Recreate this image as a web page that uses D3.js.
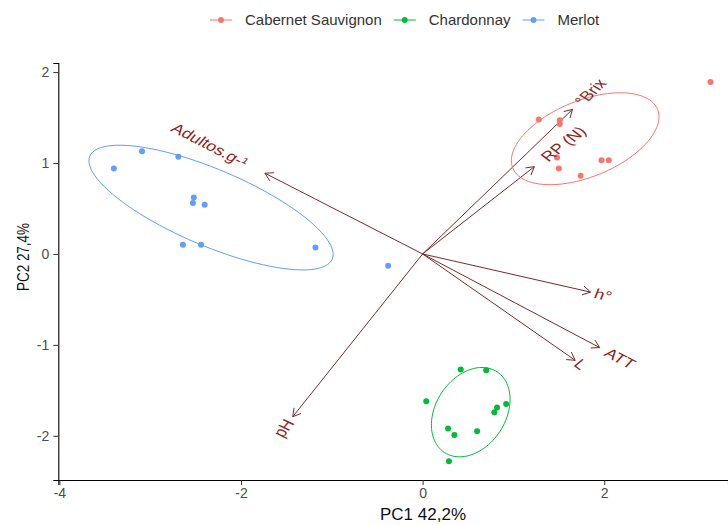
<!DOCTYPE html>
<html>
<head>
<meta charset="utf-8">
<script src="https://cdn.jsdelivr.net/npm/d3@7"></script>
<style>
  html, body { margin: 0; padding: 0; background: #fff; }
  svg { display: block; font-family: "Liberation Sans", Arial, sans-serif; }
</style>
</head>
<body>
<svg id="chart" width="728" height="525"></svg>
<script>
// ---------------- data ----------------
const categories = ["Cabernet Sauvignon", "Chardonnay", "Merlot"];
const groupColors = ["#F8766D", "#00BA38", "#619CFF"];

const cabernetPC1 = [1.28, 1.51, 1.51, 1.48, 1.50, 1.97, 2.05, 1.74, 3.17];
const cabernetPC2 = [1.48, 1.47, 1.43, 1.06, 0.94, 1.03, 1.03, 0.86, 1.89];
const chardonnayPC1 = [0.42, 0.70, 0.04, 0.82, 0.92, 0.79, 0.28, 0.35, 0.60, 0.29];
const chardonnayPC2 = [-1.27, -1.28, -1.62, -1.69, -1.65, -1.74, -1.92, -1.99, -1.95, -2.28];
const merlotPC1 = [-3.40, -3.09, -2.69, -2.52, -2.53, -2.40, -2.64, -2.44, -1.18, -0.38];
const merlotPC2 = [0.94, 1.13, 1.07, 0.62, 0.56, 0.54, 0.10, 0.10, 0.07, -0.13];

// ellipse summaries per group (centre, semi-axes, rotation in degrees), data units
const ellipseCx = [1.79, 0.53, -2.33];
const ellipseCy = [1.267, -1.74, 0.51];
const ellipseA = [0.86, 0.53, 1.45];
const ellipseB = [0.42, 0.385, 0.42];
const ellipseAngle = [22, 57, -23];

// variable loadings (arrows)
const varNames = ["°Brix", "RP (N)", "Adultos.g-¹", "h°", "ATT", "L", "pH"];
const loadPC1 = [1.65, 1.23, -1.737, 1.85, 1.95, 1.68, -1.43];
const loadPC2 = [1.59, 0.96, 0.888, -0.42, -1.03, -1.17, -1.79];

const xTicks = [-4, -2, 0, 2];
const yTicks = [-2, -1, 0, 1, 2];
const xTitle = "PC1 42,2%";
const yTitle = "PC2 27,4%";

// ---------------- chart ----------------
const svg = d3.select("#chart");
const x = d3.scaleLinear().domain([-4.012, 3.363]).range([58.3, 728]);
const y = d3.scaleLinear().domain([-2.486, 2.10]).range([480, 63]);

const groups = [
  {pc1: cabernetPC1, pc2: cabernetPC2},
  {pc1: chardonnayPC1, pc2: chardonnayPC2},
  {pc1: merlotPC1, pc2: merlotPC2}
];

// axes
const gx = svg.append("g").attr("transform", `translate(0,${y.range()[0]})`)
  .call(d3.axisBottom(x).tickValues(xTicks).tickSizeOuter(0).tickSize(5).tickPadding(3).tickFormat(d3.format("d")));
const gy = svg.append("g").attr("transform", `translate(${x.range()[0]},0)`)
  .call(d3.axisLeft(y).tickValues(yTicks).tickSizeOuter(0).tickSize(5).tickPadding(4).tickFormat(d3.format("d")));
[gx, gy].forEach(g => {
  g.select(".domain").attr("stroke", "#000").attr("stroke-width", 1.1);
  g.selectAll(".tick line").attr("stroke", "#333");
  g.selectAll(".tick text").attr("fill", "#4D4D4D").style("font-size", "14px")
    .style("font-family", "Liberation Sans, Arial, sans-serif")
    .text(d => d < 0 ? "-" + Math.abs(d) : String(d));
});

// arrows
const arrowColor = "#7a2a2a";
const x0 = x(0), y0 = y(0);
const arrows = svg.append("g");
varNames.forEach((name, i) => {
  const tx = x(loadPC1[i]), ty = y(loadPC2[i]);
  arrows.append("line").attr("x1", x0).attr("y1", y0).attr("x2", tx).attr("y2", ty)
    .attr("stroke", arrowColor).attr("stroke-width", 1);
  const ang = Math.atan2(ty - y0, tx - x0);
  const L = 9, spread = Math.PI / 6;
  const p1 = [tx - L * Math.cos(ang - spread), ty - L * Math.sin(ang - spread)];
  const p2 = [tx - L * Math.cos(ang + spread), ty - L * Math.sin(ang + spread)];
  arrows.append("path").attr("d", `M${p1[0]},${p1[1]}L${tx},${ty}L${p2[0]},${p2[1]}`)
    .attr("fill", "none").attr("stroke", arrowColor).attr("stroke-width", 1);
});

// points
groups.forEach((g, gi) => {
  svg.append("g").selectAll("circle").data(g.pc1.map((v, k) => [v, g.pc2[k]]))
    .join("circle").attr("cx", d => x(d[0])).attr("cy", d => y(d[1])).attr("r", 3)
    .attr("fill", groupColors[gi]);
});

// ellipses
const line = d3.line().x(d => x(d[0])).y(d => y(d[1])).curve(d3.curveLinearClosed);
categories.forEach((c, gi) => {
  const phi = ellipseAngle[gi] * Math.PI / 180;
  const pts = d3.range(0, 100).map(k => {
    const t = k / 100 * 2 * Math.PI;
    return [
      ellipseCx[gi] + ellipseA[gi] * Math.cos(t) * Math.cos(phi) - ellipseB[gi] * Math.sin(t) * Math.sin(phi),
      ellipseCy[gi] + ellipseA[gi] * Math.cos(t) * Math.sin(phi) + ellipseB[gi] * Math.sin(t) * Math.cos(phi)
    ];
  });
  svg.append("path").attr("d", line(pts)).attr("fill", "none")
    .attr("stroke", groupColors[gi]).attr("stroke-width", 1);
});

// variable labels (aligned with arrows, slightly widened like the reference)
const stretch = 1.3;
const labels = svg.append("g");
varNames.forEach((name, i) => {
  const tx = x(loadPC1[i]), ty = y(loadPC2[i]);
  let dx = (tx - x0) / stretch, dy = ty - y0;
  const positive = dx >= 0;
  if (!positive) { dx = -dx; dy = -dy; }
  const deg = Math.atan2(dy, dx) * 180 / Math.PI;
  const t = labels.append("text")
    .attr("transform", `translate(${tx},${ty}) scale(${stretch},1) rotate(${deg})`)
    .attr("fill", "#8f2323").style("font-size", "14px")
    .attr("dy", "0.35em")
    .attr("text-anchor", positive ? "start" : "end")
    .text(name);
  const w = t.node().getComputedTextLength();
  t.attr("x", positive ? 0.25 * w : -0.25 * w);
});

// axis titles
svg.append("text").attr("x", 423).attr("y", 520).attr("text-anchor", "middle")
  .style("font-size", "17px").attr("fill", "#111").text(xTitle);
svg.append("text").attr("transform", `translate(23,${257}) rotate(-90)`)
  .attr("text-anchor", "middle").style("font-size", "17px").attr("fill", "#111")
  .attr("textLength", 68).attr("lengthAdjust", "spacingAndGlyphs")
  .attr("dy", "0.35em").text(yTitle);

// legend
const legend = svg.append("g");
let lx = 210;
const ly = 20;
categories.forEach((c, gi) => {
  legend.append("line").attr("x1", lx).attr("x2", lx + 22).attr("y1", ly).attr("y2", ly)
    .attr("stroke", groupColors[gi]).attr("stroke-width", 1);
  legend.append("circle").attr("cx", lx + 11).attr("cy", ly).attr("r", 2.9).attr("fill", groupColors[gi]);
  const t = legend.append("text").attr("x", lx + 35).attr("y", ly).attr("dy", "0.35em")
    .style("font-size", "15px").attr("fill", "#333").text(c);
  lx = lx + 35 + t.node().getComputedTextLength() + 12;
});
</script>
</body>
</html>
